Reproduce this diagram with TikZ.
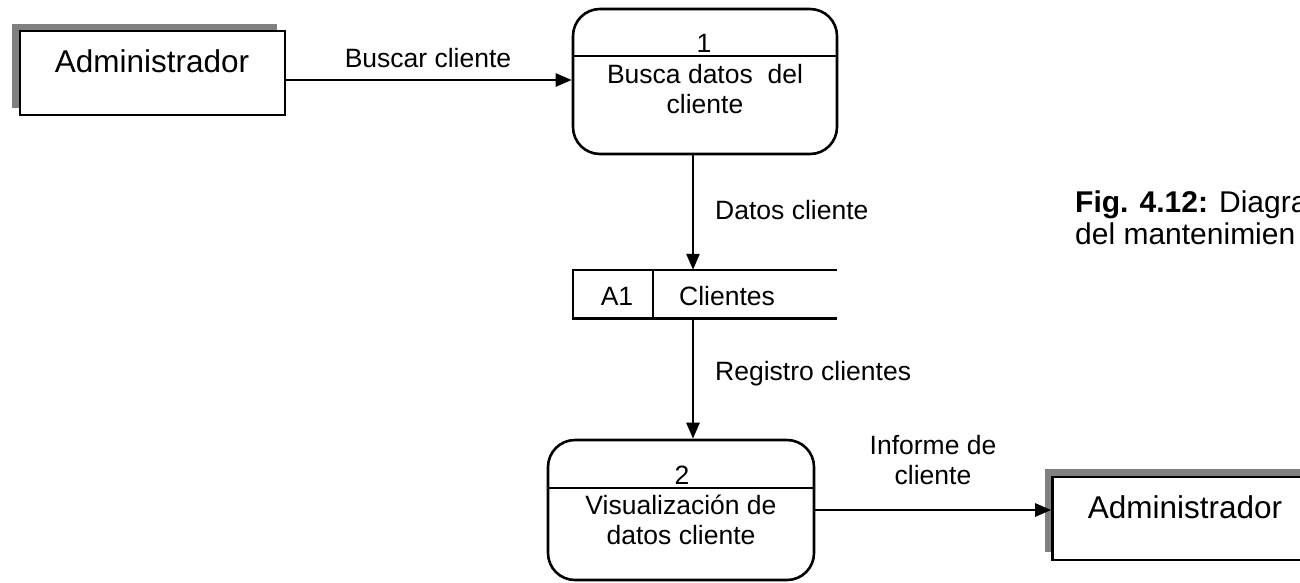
\documentclass[tikz,border=0pt]{standalone}
\usepackage{fontspec}
\setmainfont{Liberation Sans}
\usetikzlibrary{arrows.meta,shadows}
\begin{document}
\begin{tikzpicture}[x=1pt,y=-1pt,
  ln/.style={line width=2.6pt},
  ent/.style={draw,ln,fill=white,minimum width=265pt,minimum height=84pt,inner sep=0pt},
  proc/.style={draw,ln,rounded corners=27pt,inner sep=0pt},
  flow/.style={ln,-{Triangle[length=16pt,width=13pt]}},
  lbl/.style={font=\fontsize{26.5}{30}\selectfont,inner sep=0pt,align=center},
  big/.style={font=\fontsize{31.5}{36}\selectfont,inner sep=0pt},
  capt/.style={font=\fontsize{30}{32}\selectfont,inner sep=0pt,anchor=base west}]
\useasboundingbox (0,0) rectangle (1300,582);

% external entities with their grey shadow
\node[ent,drop shadow={shadow xshift=-8pt,shadow yshift=7pt,fill=black!50,opacity=1}] (adm1) at (152.5,73) {};
\node[big] (adm1t) at (152,61) {Administrador};
\node[ent,minimum height=83pt,drop shadow={shadow xshift=-8pt,shadow yshift=8pt,fill=black!50,opacity=1}] (adm2) at (1185,518.5) {};
\node[big] (adm2t) at (1185,507) {Administrador};

% process 1
\node[proc,minimum width=264pt,minimum height=145pt] (p1) at (705,81.5) {};
\draw[ln] (p1.west |- 0,56) -- (p1.east |- 0,56);
\node[lbl] (n1) at (704,43) {1};
\node[lbl] (t1) at (705,89) {Busca datos\ \ del\\cliente};

% data store
\node[minimum width=264pt,minimum height=48pt,inner sep=0pt] (st) at (705,294) {};
\draw[ln] (st.north east) -- (st.north west) -- (st.south west) -- (st.south east);
\draw[ln] ([xshift=80pt]st.north west) -- ([xshift=80pt]st.south west);
\node[lbl] (a1) at (617,296) {A1};
\node[lbl] (cl) at (727,296) {Clientes};

% process 2
\node[proc,minimum width=266pt,minimum height=140pt] (p2) at (681,510) {};
\draw[ln] (p2.west |- 0,488) -- (p2.east |- 0,488);
\node[lbl] (n2) at (682,475) {2};
\node[lbl] (t2) at (681,520) {Visualización de\\datos cliente};

% data flows
\draw[flow] ([yshift=-7pt]adm1.east) -- ([yshift=-7pt]adm1.east -| p1.west);
\draw[flow] ([xshift=-12pt]p1.south) -- ([xshift=-12pt]p1.south |- st.north);
\draw[flow] ([xshift=-12pt]st.south) -- ([xshift=-12pt]st.south |- p2.north);
\draw[flow] (p2.east) -- (p2.east -| adm2.west);

\node[lbl] (l1) at (428,58) {Buscar cliente};
\node[lbl,anchor=west] (l2) at (715,210) {Datos cliente};
\node[lbl,anchor=base west] (l3) at (715,380) {Registro clientes};
\node[lbl] (l4) at (933,460) {Informe de\\cliente};

% caption, running past the right edge
\node[capt] (cap1) at (1075,212) {\textbf{Fig. 4.12:} Diagra};
\node[capt] (cap2) at (1075,244) {del mantenimien};
\end{tikzpicture}
\end{document}
